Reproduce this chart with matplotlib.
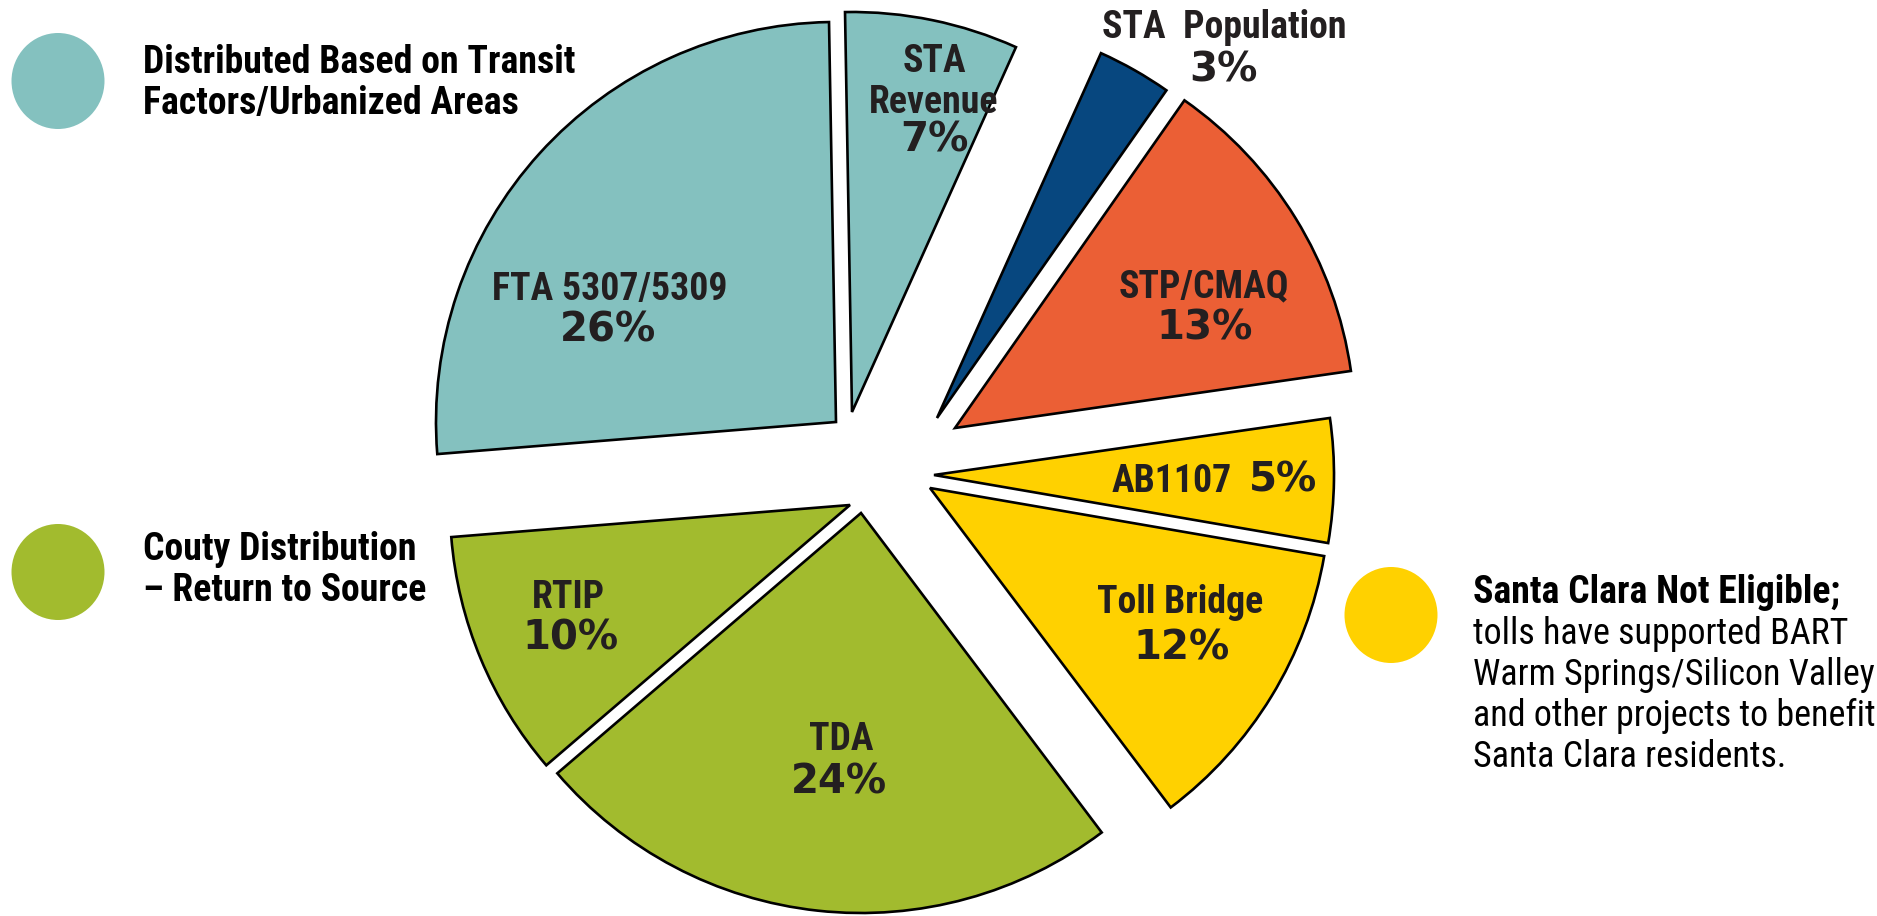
import matplotlib
matplotlib.use("Agg")
import matplotlib.pyplot as plt
from matplotlib.patches import Ellipse
from matplotlib import font_manager

W, H = 1877, 916

# slices, clockwise from the top
names = ["STA\nRevenue", "STA  Population", "STP/CMAQ", "AB1107", "Toll Bridge", "TDA", "RTIP", "FTA 5307/5309"]
shares = [7, 3, 13, 5, 12, 24, 10, 26]
colors = ["#84c1bf", "#07477f", "#eb5f35", "#ffd100", "#ffd100", "#a2bb2e", "#a2bb2e", "#84c1bf"]

group_text = ["Distributed Based on Transit\nFactors/Urbanized Areas",
              "Couty Distribution\n– Return to Source"]
group_colors = ["#84c1bf", "#a2bb2e"]
note_title = "Santa Clara Not Eligible;"
note_lines = ["tolls have supported BART", "Warm Springs/Silicon Valley",
              "and other projects to benefit", "Santa Clara residents."]
note_color = "#ffd100"

# layout (pixels, y measured from the top)
pie_center = (880, H - 465)
pie_radius = 400
shifts = [(-28, 53), (57, 47), (75, 37), (54, -10), (50, -23), (-19, -48), (-30, -40), (-44, 43)]
name_xy = [(934, 72), (1224, 38), (1204, 297), (1172, 492), (1180, 613), (841, 750), (568, 608), (610, 300)]
pct_xy = [(934, 152), (1223, 82), (1205, 340), (1283, 492), (1182, 660), (839, 793), (571, 650), (608, 342)]
dot_xy = [(58, 81), (58, 572)]
group_xy = [(143, 73), (143, 560)]
note_dot = (1391, 615)
note_xy = (1473, 603)
line_step = 41
ink = "#231f20"


def pick_condensed():
    # look for a narrow sans; fall back to plain Liberation Sans
    tries = [("Liberation Sans Narrow", "normal"), ("Noto Sans", "condensed"),
             ("Noto Sans Condensed", "normal"), ("Roboto Condensed", "normal"),
             ("Open Sans", "condensed"), ("Open Sans Condensed", "normal"),
             ("DejaVu Sans", "condensed"), ("DejaVu Sans Condensed", "normal")]
    for fam, st in tries:
        try:
            path = font_manager.findfont(
                font_manager.FontProperties(family=fam, stretch=st, weight="bold"),
                fallback_to_default=False)
        except ValueError:
            continue
        low = path.lower()
        if "narrow" in low or "condensed" in low:
            return fam, st
    return "Liberation Sans", "normal"


cond, stretch = pick_condensed()

fig = plt.figure(figsize=(W / 100, H / 100), dpi=100)
ax = fig.add_axes([0, 0, 1, 1])
renderer = fig.canvas.get_renderer()


def fit_size(text, width, weight):
    # font size that makes `text` about `width` pixels wide
    probe = fig.text(0, 0, text, family=cond, fontstretch=stretch, fontsize=20, fontweight=weight)
    pw = probe.get_window_extent(renderer=renderer).width
    probe.remove()
    return 20 * width / pw


bold_size = fit_size("Distributed Based on Transit", 430, "bold")
plain_size = fit_size("Warm Springs/Silicon Valley", 400, "normal")
bfont = dict(family=cond, fontstretch=stretch, fontsize=bold_size, fontweight="bold")
pfont = dict(family=cond, fontstretch=stretch, fontsize=plain_size, fontweight="normal")

wedges, _ = ax.pie(shares, colors=colors, startangle=91, counterclock=False,
                   radius=pie_radius, center=pie_center,
                   wedgeprops=dict(edgecolor="black", linewidth=1.9))
for w, (dx, dy) in zip(wedges, shifts):
    w.set_center((pie_center[0] + dx, pie_center[1] + dy))

ax.set_xlim(0, W)
ax.set_ylim(0, H)
ax.axis("off")


def lines_at(x, y, text, **kw):
    for i, line in enumerate(text.split("\n")):
        ax.text(x, H - (y + i * line_step), line, va="baseline", **kw)


for name, share, (nx, ny), (px, py) in zip(names, shares, name_xy, pct_xy):
    lines_at(nx, ny, name, ha="center", color=ink, **bfont)
    ax.text(px, H - py, f"{share}%", ha="center", va="baseline",
            family="DejaVu Sans", fontsize=29, fontweight="bold", color=ink)

for (cx, cy), txt, c, (tx, ty) in zip(dot_xy, group_text, group_colors, group_xy):
    ax.add_patch(Ellipse((cx, H - cy), 93, 96, color=c, lw=0))
    lines_at(tx, ty, txt, ha="left", color="black", **bfont)

ax.add_patch(Ellipse((note_dot[0], H - note_dot[1]), 93, 96, color=note_color, lw=0))
ax.text(note_xy[0], H - note_xy[1], note_title, ha="left", va="baseline",
        color="black", **bfont)
lines_at(note_xy[0], note_xy[1] + line_step, "\n".join(note_lines), ha="left",
         color="black", **pfont)

fig.savefig("out.png", dpi=100)
